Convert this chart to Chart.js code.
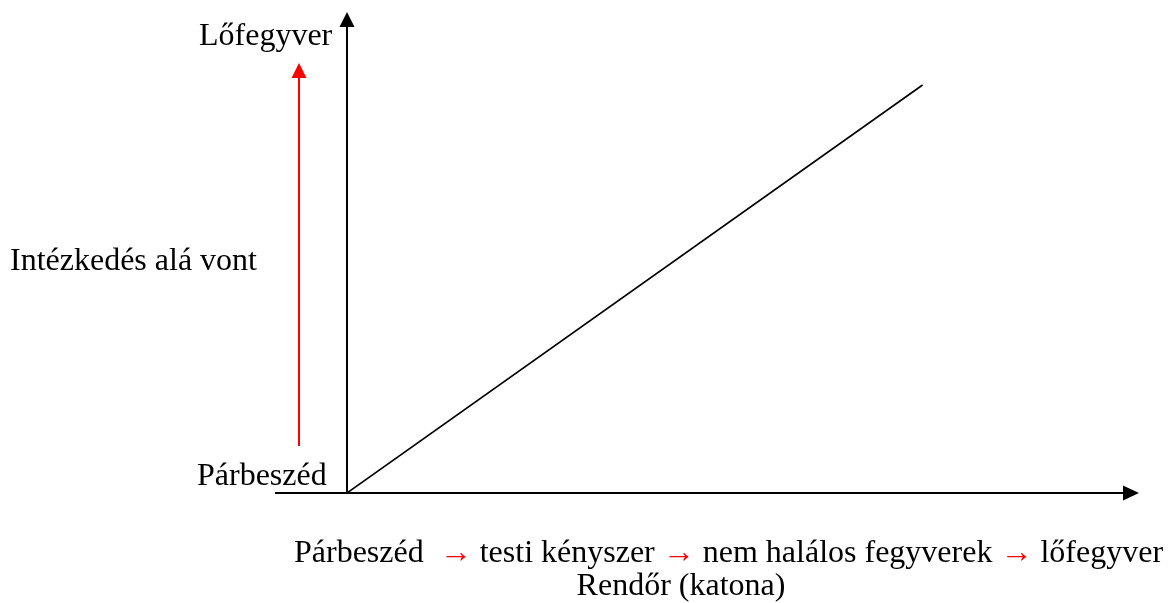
<!DOCTYPE html>
<html>
<head>
<meta charset="utf-8">
<script src="https://cdn.jsdelivr.net/npm/chart.js@4"></script>
<style>
  html, body { margin: 0; padding: 0; background: #fff; }
  #wrap { width: 1168px; height: 603px; }
</style>
</head>
<body>
<div id="wrap"><canvas id="chart"></canvas></div>
<script>
// adatok
const escalationX = [0, 10];
const responseY = [0, 10];
const axisMaxX = 13.76;
const axisMaxY = 11.79;

const yTopLabel = "Lőfegyver";
const yMidLabel = "Intézkedés alá vont";
const yBottomLabel = "Párbeszéd";
const xSteps = ["Párbeszéd ", "testi kényszer", "nem halálos fegyverek", "lőfegyver"];
const xTitle = "Rendőr (katona)";

const FONT = "32px 'Liberation Serif', 'Times New Roman', serif";

// nyílhegy rajzolása
function arrowHead(ctx, x, y, dir, color) {
  ctx.save();
  ctx.fillStyle = color;
  ctx.beginPath();
  if (dir === "up") {
    ctx.moveTo(x, y);
    ctx.lineTo(x - 7.5, y + 15);
    ctx.lineTo(x + 7.5, y + 15);
  } else {
    ctx.moveTo(x, y);
    ctx.lineTo(x - 16, y - 7.5);
    ctx.lineTo(x - 16, y + 7.5);
  }
  ctx.closePath();
  ctx.fill();
  ctx.restore();
}

const decorPlugin = {
  id: "decor",
  beforeDatasetsDraw(chart) {
    const { ctx, chartArea } = chart;
    const ox = chart.scales.x.getPixelForValue(0);
    const oy = chart.scales.y.getPixelForValue(0);
    ctx.save();
    ctx.strokeStyle = "#000";
    ctx.lineWidth = 2;
    // x tengely
    ctx.beginPath();
    ctx.moveTo(ox - 72, oy);
    ctx.lineTo(chartArea.right - 14, oy);
    ctx.stroke();
    arrowHead(ctx, chartArea.right, oy, "right", "#000");
    // y tengely
    ctx.beginPath();
    ctx.moveTo(ox, oy);
    ctx.lineTo(ox, chartArea.top + 13);
    ctx.stroke();
    arrowHead(ctx, ox, chartArea.top, "up", "#000");
    // piros nyíl
    ctx.strokeStyle = "#ff0000";
    ctx.beginPath();
    ctx.moveTo(ox - 48, oy - 47);
    ctx.lineTo(ox - 48, chartArea.top + 62);
    ctx.stroke();
    arrowHead(ctx, ox - 48, chartArea.top + 51, "up", "#ff0000");
    ctx.restore();
  },
  afterDraw(chart) {
    const { ctx } = chart;
    const ox = chart.scales.x.getPixelForValue(0);
    const oy = chart.scales.y.getPixelForValue(0);
    ctx.save();
    ctx.font = FONT;
    ctx.textBaseline = "alphabetic";
    ctx.textAlign = "left";
    ctx.fillStyle = "#000";
    ctx.fillText(yTopLabel, 199, 45);
    ctx.fillText(yMidLabel, 10, 270);
    ctx.fillText(yBottomLabel, 197, 485);
    // alsó sor: lépések piros nyilakkal
    let x = ox - 53;
    const y = oy + 69;
    xSteps.forEach((s, i) => {
      if (i > 0) {
        ctx.fillStyle = "#ff0000";
        ctx.fillText("→", x, y);
        x += ctx.measureText("→ ").width;
      }
      ctx.fillStyle = "#000";
      ctx.fillText(s, x, y);
      x += ctx.measureText(s + " ").width;
    });
    ctx.textAlign = "center";
    ctx.fillText(xTitle, 681, oy + 102);
    ctx.restore();
  },
};

new Chart(document.getElementById("chart").getContext("2d"), {
  type: "scatter",
  data: {
    datasets: [
      {
        data: escalationX.map((v, i) => ({ x: v, y: responseY[i] })),
        showLine: true,
        borderColor: "#000",
        borderWidth: 1.6,
        pointRadius: 0,
        fill: false,
      },
    ],
  },
  options: {
    responsive: true,
    maintainAspectRatio: false,
    animation: false,
    layout: { padding: { left: 347, top: 12, right: 29, bottom: 110 } },
    plugins: { legend: { display: false }, tooltip: { enabled: false } },
    scales: {
      x: { display: false, min: 0, max: axisMaxX },
      y: { display: false, min: 0, max: axisMaxY },
    },
  },
  plugins: [decorPlugin],
});
</script>
</body>
</html>
